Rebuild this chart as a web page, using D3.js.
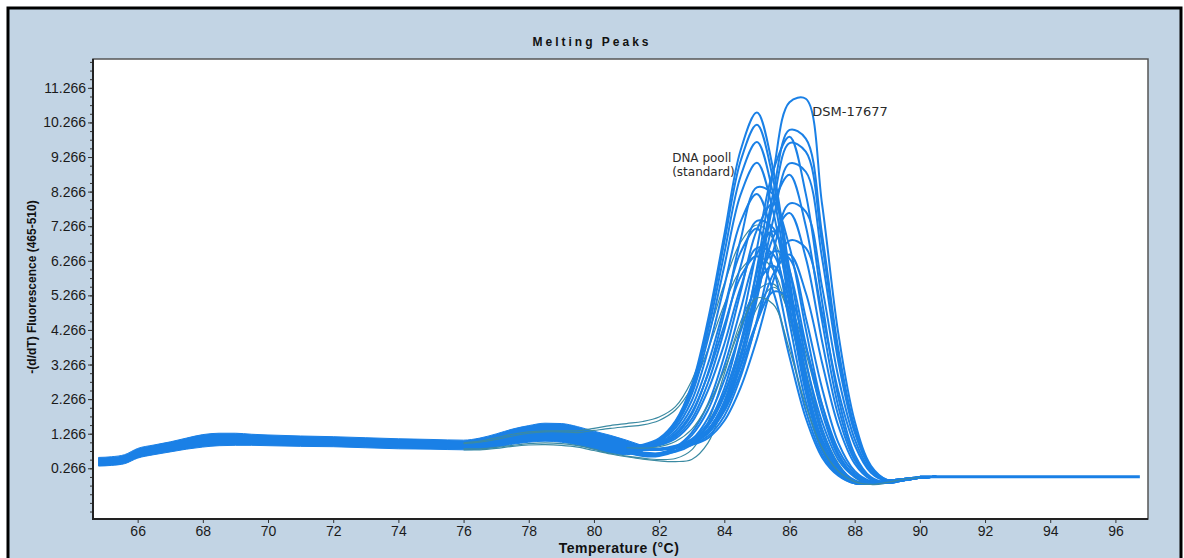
<!DOCTYPE html>
<html>
<head>
<meta charset="utf-8">
<script src="https://cdn.jsdelivr.net/npm/d3@7"></script>
<style>
  body { margin: 0; background: #fff; }
  svg { display: block; font-family: "Liberation Sans", Arial, sans-serif; }
</style>
</head>
<body>
<div id="chart"></div>
<script>
const width = 1184, height = 558;

// axis ticks
const xTicks = [66, 68, 70, 72, 74, 76, 78, 80, 82, 84, 86, 88, 90, 92, 94, 96];
const yTicks = [0.266, 1.266, 2.266, 3.266, 4.266, 5.266, 6.266, 7.266, 8.266, 9.266, 10.266, 11.266];

// dense baseline band (all samples overlap here)
const bandTemps = [64.8, 65.2, 65.6, 66, 66.5, 67, 67.5, 68, 68.5, 69, 69.5, 70, 71, 72, 73, 74, 75, 76, 76.5, 77, 77.5, 78, 78.5, 79, 79.5, 80, 80.5, 81, 81.5];
const bandLow  = [0.33, 0.35, 0.40, 0.56, 0.66, 0.74, 0.82, 0.88, 0.92, 0.93, 0.93, 0.92, 0.90, 0.89, 0.86, 0.83, 0.82, 0.80, 0.82, 0.88, 0.96, 1.02, 1.05, 1.02, 0.94, 0.82, 0.70, 0.66, 0.76];
const bandHigh = [0.58, 0.60, 0.66, 0.84, 0.94, 1.03, 1.14, 1.24, 1.28, 1.28, 1.25, 1.23, 1.20, 1.18, 1.15, 1.12, 1.10, 1.08, 1.14, 1.26, 1.40, 1.50, 1.57, 1.56, 1.47, 1.34, 1.22, 1.08, 0.92];

// melting peaks, one array per sample
const peakTemps = [81, 81.5, 82, 82.5, 83, 83.5, 84, 84.5, 85, 85.5, 86, 86.5, 87, 87.5, 88, 88.5, 89, 89.5, 90, 90.5];
const a1  = [0.90, 0.95, 1.13, 1.63, 2.67, 4.56, 7.02, 9.46, 10.55, 8.91, 5.77, 2.84, 1.00, 0.18, -0.15, -0.15, -0.10, -0.04, 0.00, 0.02];
const a2  = [0.78, 0.86, 1.08, 1.60, 2.60, 4.43, 6.80, 9.15, 10.20, 8.61, 5.58, 2.74, 0.96, 0.17, -0.15, -0.15, -0.10, -0.04, 0.00, 0.02];
const a3  = [0.80, 0.85, 1.02, 1.55, 2.51, 4.24, 6.48, 8.71, 9.70, 8.19, 5.30, 2.61, 0.91, 0.15, -0.15, -0.15, -0.10, -0.04, 0.00, 0.02];
const a4  = [0.95, 0.93, 1.08, 1.50, 2.40, 4.01, 6.11, 8.18, 9.10, 7.68, 4.98, 2.45, 0.85, 0.14, -0.16, -0.15, -0.10, -0.04, 0.00, 0.02];
const a5  = [0.87, 0.88, 0.97, 1.22, 1.82, 3.02, 4.76, 6.88, 8.39, 8.18, 6.03, 3.40, 1.41, 0.36, -0.08, -0.17, -0.12, -0.05, 0.00, 0.02];
const a6  = [0.89, 0.91, 1.05, 1.43, 2.22, 3.67, 5.54, 7.39, 8.20, 6.91, 4.48, 2.20, 0.76, 0.11, -0.16, -0.15, -0.10, -0.04, 0.00, 0.02];
const a7  = [0.87, 0.87, 0.95, 1.17, 1.69, 2.74, 4.26, 6.11, 7.42, 7.22, 5.32, 3.00, 1.24, 0.31, -0.10, -0.17, -0.12, -0.05, 0.00, 0.02];
const a8  = [0.88, 0.90, 1.01, 1.34, 2.03, 3.29, 4.91, 6.51, 7.20, 6.06, 3.93, 1.93, 0.66, 0.08, -0.17, -0.15, -0.10, -0.04, 0.00, 0.02];
const a9  = [0.84, 0.86, 0.93, 1.12, 1.59, 2.52, 3.86, 5.49, 6.64, 6.45, 4.75, 2.68, 1.10, 0.26, -0.11, -0.17, -0.12, -0.05, 0.00, 0.02];
const a10 = [0.86, 0.89, 0.98, 1.27, 1.88, 2.98, 4.40, 5.80, 6.40, 5.38, 3.49, 1.72, 0.58, 0.05, -0.17, -0.15, -0.10, -0.04, 0.00, 0.02];
const m1  = [0.76, 0.68, 0.70, 0.88, 1.30, 2.12, 3.52, 5.36, 7.16, 7.92, 6.67, 4.29, 2.10, 0.69, 0.07, -0.14, -0.14, -0.06, 0.00, 0.02];
const m2  = [0.74, 0.64, 0.66, 0.84, 1.22, 1.95, 3.22, 4.86, 6.46, 7.12, 5.99, 3.85, 1.88, 0.61, 0.05, -0.15, -0.14, -0.06, 0.00, 0.02];
const m3  = [0.80, 0.72, 0.70, 0.78, 1.00, 1.50, 2.44, 3.80, 5.42, 6.53, 6.33, 4.62, 2.58, 1.00, 0.19, -0.11, -0.14, -0.06, 0.00, 0.02];
const m4  = [0.72, 0.62, 0.62, 0.76, 1.08, 1.72, 2.82, 4.22, 5.58, 6.12, 5.14, 3.30, 1.61, 0.51, 0.02, -0.16, -0.14, -0.06, 0.00, 0.02];
const m5  = [0.78, 0.70, 0.68, 0.74, 0.94, 1.36, 2.12, 3.20, 4.50, 5.37, 5.18, 3.77, 2.10, 0.80, 0.13, -0.12, -0.14, -0.06, 0.00, 0.02];
const b1  = [0.85, 0.81, 0.81, 0.89, 1.04, 1.38, 2.20, 3.80, 6.05, 8.80, 10.85, 10.95, 7.90, 4.15, 1.63, 0.34, -0.07, -0.08, -0.01, 0.02];
const b2  = [0.83, 0.80, 0.81, 0.88, 1.02, 1.32, 2.07, 3.52, 5.65, 8.22, 10.05, 9.80, 7.03, 3.71, 1.45, 0.30, -0.08, -0.08, -0.01, 0.02];
const b3  = [0.92, 0.86, 0.83, 0.88, 1.01, 1.30, 2.02, 3.41, 5.45, 7.92, 9.67, 9.42, 6.76, 3.57, 1.39, 0.28, -0.08, -0.08, -0.01, 0.02];
const b4  = [0.85, 0.82, 0.83, 0.92, 1.11, 1.58, 2.57, 4.32, 6.62, 8.87, 9.85, 8.20, 5.09, 2.31, 0.67, 0.01, -0.15, -0.08, -0.01, 0.02];
const b5  = [0.86, 0.81, 0.81, 0.87, 0.99, 1.27, 1.94, 3.24, 5.15, 7.45, 9.08, 8.84, 6.34, 3.34, 1.30, 0.25, -0.09, -0.08, -0.01, 0.02];
const b6  = [0.84, 0.82, 0.82, 0.90, 1.07, 1.49, 2.36, 3.90, 5.93, 7.90, 8.75, 7.27, 4.52, 2.04, 0.58, -0.01, -0.16, -0.08, -0.01, 0.02];
const b7  = [0.85, 0.80, 0.80, 0.86, 0.96, 1.20, 1.78, 2.91, 4.55, 6.53, 7.92, 7.69, 5.51, 2.90, 1.11, 0.19, -0.10, -0.08, -0.01, 0.02];
const b8  = [0.87, 0.81, 0.82, 0.89, 1.03, 1.39, 2.15, 3.49, 5.24, 6.94, 7.65, 6.35, 3.94, 1.78, 0.50, -0.04, -0.16, -0.08, -0.01, 0.02];
const b9  = [0.84, 0.80, 0.80, 0.85, 0.94, 1.14, 1.64, 2.60, 4.00, 5.68, 6.85, 6.64, 4.75, 2.49, 0.94, 0.14, -0.11, -0.08, -0.01, 0.02];
const b10 = [0.86, 0.81, 0.81, 0.87, 0.99, 1.29, 1.92, 3.03, 4.48, 5.88, 6.45, 5.34, 3.32, 1.49, 0.40, -0.06, -0.16, -0.08, -0.01, 0.02];
const t1  = [0.86, 0.85, 0.89, 1.04, 1.39, 2.10, 3.11, 4.34, 5.19, 5.01, 3.69, 2.08, 0.85, 0.18, -0.12, -0.20, -0.14, -0.05, 0.00, 0.02];

// samples that leave the band early (thin darker traces)
const outlierTemps = [76, 76.5, 77, 77.5, 78, 78.5, 79, 79.5, 80, 80.5, 81, 81.5, 82, 82.5, 83, 83.5, 84, 84.5, 85, 85.5, 86, 86.5, 87, 87.5, 88, 88.5, 89, 89.5, 90];
const t2 = [1.00, 1.05, 1.15, 1.25, 1.32, 1.35, 1.35, 1.35, 1.42, 1.50, 1.56, 1.62, 1.75, 2.05, 2.80, 4.10, 5.60, 6.80, 7.30, 6.90, 5.30, 3.10, 1.30, 0.30, -0.15, -0.17, -0.10, -0.04, 0.00];
const t3 = [0.98, 1.02, 1.10, 1.20, 1.28, 1.32, 1.32, 1.30, 1.36, 1.42, 1.47, 1.52, 1.65, 1.95, 2.60, 3.70, 5.00, 6.00, 6.40, 6.00, 4.60, 2.70, 1.10, 0.20, -0.18, -0.16, -0.10, -0.04, 0.00];
const t4 = [0.80, 0.80, 0.84, 0.90, 0.94, 0.95, 0.93, 0.88, 0.78, 0.68, 0.60, 0.53, 0.48, 0.46, 0.52, 1.00, 2.20, 3.60, 4.90, 5.50, 5.00, 3.60, 1.90, 0.65, 0.00, -0.20, -0.16, -0.06, 0.00];
const t5 = [0.83, 0.83, 0.87, 0.93, 0.98, 1.00, 0.98, 0.92, 0.82, 0.70, 0.62, 0.56, 0.52, 0.55, 0.80, 1.60, 3.00, 4.50, 5.40, 5.60, 4.70, 3.00, 1.40, 0.40, -0.12, -0.20, -0.14, -0.05, 0.00];

// flat tail after melting
const tailTemps = [90, 96.75];
const tailValues = [0.02, 0.02];

const blueCurves = [m5, m4, m3, m2, m1, a10, a9, a8, a7, a6, a5, a4, a3, a2, a1, b10, b9, b8, b7, b6, b5, b4, b3, b2, b1];
const tealPeak = [t1];
const tealOutliers = [t2, t3, t4, t5];

const labels = [
  { text: "DNA pooll", t: 82.40, v: 9.13, size: 12 },
  { text: "(standard)", t: 82.40, v: 8.72, size: 12 },
  { text: "DSM-17677", t: 86.70, v: 10.44, size: 13 }
];

const blue = "#1a80e6";
const teal = "#3b8aa2";

const svg = d3.select("#chart")
  .append("svg")
  .attr("width", width)
  .attr("height", height);

// panel
svg.append("rect")
  .attr("x", 8).attr("y", 8)
  .attr("width", 1173).attr("height", 570)
  .attr("fill", "#c2d4e4")
  .attr("stroke", "#000")
  .attr("stroke-width", 3);

const x = d3.scaleLinear().domain([64.63, 97.0]).range([93, 1148]);
const y = d3.scaleLinear().domain([-1.2, 12.1]).range([519, 59]);

svg.append("rect")
  .attr("x", 93).attr("y", 59)
  .attr("width", 1055).attr("height", 460)
  .attr("fill", "#fff")
  .attr("stroke", "#555")
  .attr("stroke-width", 1.5);

svg.append("clipPath").attr("id", "plot-clip")
  .append("rect")
  .attr("x", 93).attr("y", 59)
  .attr("width", 1055).attr("height", 460);

const plot = svg.append("g").attr("clip-path", "url(#plot-clip)");

// baseline band
const area = d3.area()
  .x((d, i) => x(bandTemps[i]))
  .y0((d, i) => y(bandLow[i]))
  .y1((d, i) => y(bandHigh[i]))
  .curve(d3.curveMonotoneX);

plot.append("path")
  .datum(bandTemps)
  .attr("d", area)
  .attr("fill", blue)
  .attr("stroke", blue)
  .attr("stroke-width", 1);

const lineOn = temps => d3.line()
  .x((d, i) => x(temps[i]))
  .y(d => y(d))
  .curve(d3.curveCatmullRom.alpha(0.5));

plot.append("g")
  .selectAll("path")
  .data(tealOutliers)
  .join("path")
    .attr("d", lineOn(outlierTemps))
    .attr("fill", "none")
    .attr("stroke", teal)
    .attr("stroke-width", 1.2);

plot.append("g")
  .selectAll("path")
  .data(blueCurves)
  .join("path")
    .attr("d", lineOn(peakTemps))
    .attr("fill", "none")
    .attr("stroke", blue)
    .attr("stroke-width", 2);

plot.append("g")
  .selectAll("path")
  .data(tealPeak)
  .join("path")
    .attr("d", lineOn(peakTemps))
    .attr("fill", "none")
    .attr("stroke", teal)
    .attr("stroke-width", 1.2);

plot.append("path")
  .datum(tailValues)
  .attr("d", lineOn(tailTemps))
  .attr("fill", "none")
  .attr("stroke", blue)
  .attr("stroke-width", 3);

// axes
const minorY = d3.range(-0.984, 12.1, 0.25);

const yMinor = svg.append("g")
  .attr("transform", "translate(93,0)")
  .call(d3.axisLeft(y).tickValues(minorY).tickSize(3).tickFormat(""));
yMinor.select(".domain").remove();

const yAxis = svg.append("g")
  .attr("transform", "translate(93,0)")
  .call(d3.axisLeft(y).tickValues(yTicks).tickSize(5).tickPadding(2).tickFormat(d3.format(".3f")));
yAxis.select(".domain").remove();

const xAxis = svg.append("g")
  .attr("transform", "translate(0,519)")
  .call(d3.axisBottom(x).tickValues(xTicks).tickSize(4).tickPadding(3).tickFormat(d3.format("d")));
xAxis.select(".domain").remove();

svg.selectAll(".tick line").attr("stroke", "#333");
svg.selectAll(".tick text")
  .attr("fill", "#1a1a1a")
  .attr("font-size", 14)
  .attr("font-family", "'Liberation Sans', Arial, sans-serif");

svg.append("line")
  .attr("x1", 93).attr("x2", 93).attr("y1", 59).attr("y2", 520)
  .attr("stroke", "#222").attr("stroke-width", 2);
svg.append("line")
  .attr("x1", 92).attr("x2", 1148).attr("y1", 519).attr("y2", 519)
  .attr("stroke", "#222").attr("stroke-width", 2);

// titles
svg.append("text")
  .attr("x", 592).attr("y", 46)
  .attr("text-anchor", "middle")
  .attr("font-size", 12).attr("font-weight", "bold")
  .attr("letter-spacing", 3)
  .attr("fill", "#111")
  .text("Melting Peaks");

svg.append("text")
  .attr("transform", "translate(36,287) rotate(-90)")
  .attr("text-anchor", "middle")
  .attr("font-size", 12).attr("font-weight", "bold")
  .attr("fill", "#111")
  .text("-(d/dT) Fluorescence (465-510)");

svg.append("text")
  .attr("x", 619).attr("y", 553)
  .attr("text-anchor", "middle")
  .attr("font-size", 14).attr("font-weight", "bold")
  .attr("letter-spacing", 0.5)
  .attr("fill", "#111")
  .text("Temperature (°C)");

svg.append("g")
  .selectAll("text")
  .data(labels)
  .join("text")
    .attr("x", d => x(d.t))
    .attr("y", d => y(d.v))
    .attr("font-family", "'DejaVu Sans', sans-serif")
    .attr("font-size", d => d.size)
    .attr("fill", "#2a2a2a")
    .text(d => d.text);
</script>
</body>
</html>
